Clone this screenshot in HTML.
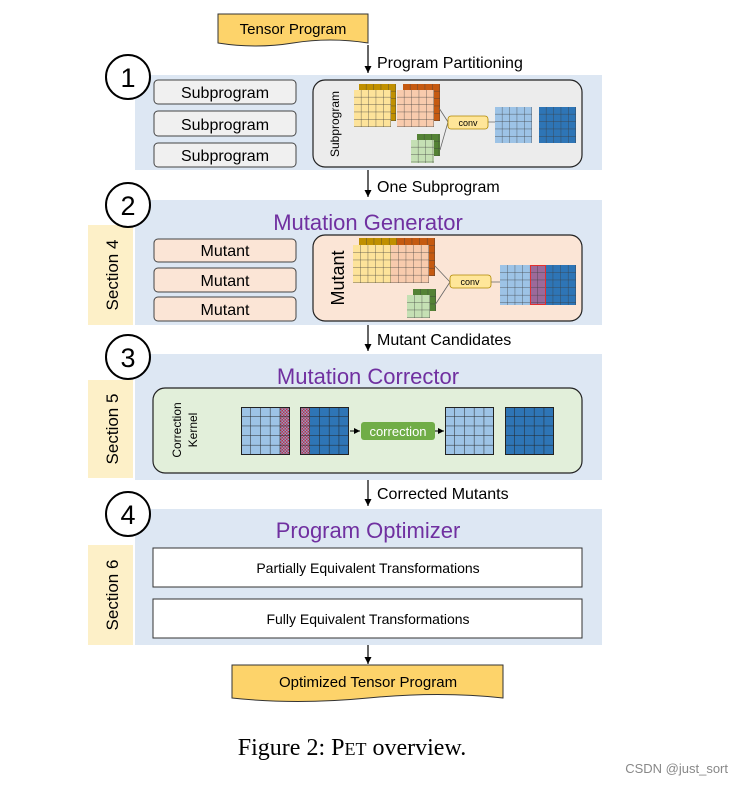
<!DOCTYPE html>
<html><head><meta charset="utf-8"><style>
body{margin:0;background:#fff;}
svg{display:block;font-family:"Liberation Sans",sans-serif;}
</style></head><body>
<svg width="743" height="785" viewBox="0 0 743 785" xmlns="http://www.w3.org/2000/svg">
<defs>
<pattern id="g7" width="7.4" height="7.4" patternUnits="userSpaceOnUse"><path d="M7.4 0V7.4H0" fill="none" stroke="#3a3a3a" stroke-width="0.7"/></pattern>
<pattern id="g8" width="7.6" height="7.6" patternUnits="userSpaceOnUse"><path d="M7.6 0V7.6H0" fill="none" stroke="#3a3a3a" stroke-width="0.7"/></pattern>
<pattern id="g10" width="9.8" height="9.6" patternUnits="userSpaceOnUse"><path d="M9.8 0V9.6H0" fill="none" stroke="#222" stroke-width="1"/></pattern>
<pattern id="hatch" width="3" height="3" patternUnits="userSpaceOnUse"><rect width="3" height="3" fill="#c0304a"/><rect width="1.5" height="1.5" fill="#8aa0c8"/><rect x="1.5" y="1.5" width="1.5" height="1.5" fill="#8aa0c8"/></pattern>
<marker id="ar" markerWidth="8" markerHeight="8" refX="6" refY="3" orient="auto"><path d="M0,0L6,3L0,6z" fill="#000"/></marker>
</defs>

<path d="M218,14H368V43Q330,37 293,43T218,43Z" fill="#fdd36a" stroke="#333" stroke-width="1"/>
<text x="293" y="34" font-size="15" text-anchor="middle">Tensor Program</text>
<line x1="368" y1="45" x2="368" y2="73" stroke="#000" stroke-width="1.2" marker-end="url(#ar)"/>
<text x="377" y="68" font-size="16">Program Partitioning</text>

<rect x="135" y="75" width="467" height="95" fill="#dde7f3"/>
<circle cx="128" cy="77" r="22" fill="#fff" stroke="#000" stroke-width="2"/>
<text x="128" y="87" font-size="27" text-anchor="middle">1</text>
<g font-size="16" text-anchor="middle">
<rect x="154" y="80" width="142" height="24" rx="4" fill="#f0f0f0" stroke="#444"/><text x="225" y="98">Subprogram</text>
<rect x="154" y="111" width="142" height="25" rx="4" fill="#f0f0f0" stroke="#444"/><text x="225" y="130">Subprogram</text>
<rect x="154" y="143" width="142" height="24" rx="4" fill="#f0f0f0" stroke="#444"/><text x="225" y="161">Subprogram</text>
</g>
<rect x="313" y="80" width="269" height="87" rx="12" fill="#ececec" stroke="#222" stroke-width="1.2"/>
<text transform="translate(339,124) rotate(-90)" font-size="12" text-anchor="middle">Subprogram</text>
<svg x="359" y="84" width="37" height="37"><rect width="37" height="37" fill="#c09000"/><rect width="37" height="37" fill="url(#g7)"/></svg>
<svg x="354" y="90" width="37" height="37"><rect width="37" height="37" fill="#fde39a"/><rect width="37" height="37" fill="url(#g7)"/></svg>
<svg x="403" y="84" width="37" height="37"><rect width="37" height="37" fill="#c55a11"/><rect width="37" height="37" fill="url(#g7)"/></svg>
<svg x="397" y="90" width="37" height="37"><rect width="37" height="37" fill="#f8cbad"/><rect width="37" height="37" fill="url(#g7)"/></svg>
<svg x="417" y="134" width="23" height="22"><rect width="23" height="22" fill="#548235"/><rect width="23" height="22" fill="url(#g7)"/></svg>
<svg x="411" y="140" width="23" height="23"><rect width="23" height="23" fill="#c5e0b4"/><rect width="23" height="23" fill="url(#g7)"/></svg>
<path d="M439,108L448,122L440,150M488,122H495" fill="none" stroke="#666" stroke-width="0.8"/>
<rect x="448" y="116" width="40" height="13" rx="3" fill="#ffe699" stroke="#b08800" stroke-width="0.8"/>
<text x="468" y="126" font-size="9" text-anchor="middle">conv</text>
<svg x="495" y="107" width="37" height="36"><rect width="37" height="36" fill="#9dc3e6"/><rect width="37" height="36" fill="url(#g7)"/></svg>
<svg x="539" y="107" width="37" height="36"><rect width="37" height="36" fill="#2e75b6"/><rect width="37" height="36" fill="url(#g7)"/></svg>

<line x1="368" y1="170" x2="368" y2="197" stroke="#000" stroke-width="1.2" marker-end="url(#ar)"/>
<text x="377" y="192" font-size="16">One Subprogram</text>

<rect x="135" y="200" width="467" height="125" fill="#dde7f3"/>
<rect x="88" y="225" width="45" height="100" fill="#fdf0c8"/>
<text transform="translate(118,275) rotate(-90)" font-size="17" text-anchor="middle">Section 4</text>
<circle cx="128" cy="205" r="22" fill="#fff" stroke="#000" stroke-width="2"/>
<text x="128" y="215" font-size="27" text-anchor="middle">2</text>
<text x="368" y="230" font-size="22" fill="#7030a0" text-anchor="middle">Mutation Generator</text>
<g font-size="16" text-anchor="middle">
<rect x="154" y="239" width="142" height="23" rx="4" fill="#fbe5d6" stroke="#444"/><text x="225" y="256">Mutant</text>
<rect x="154" y="268" width="142" height="24" rx="4" fill="#fbe5d6" stroke="#444"/><text x="225" y="286">Mutant</text>
<rect x="154" y="297" width="142" height="24" rx="4" fill="#fbe5d6" stroke="#444"/><text x="225" y="315">Mutant</text>
</g>
<rect x="313" y="235" width="269" height="86" rx="12" fill="#fbe5d6" stroke="#222" stroke-width="1.2"/>
<text transform="translate(344,278) rotate(-90)" font-size="18" text-anchor="middle">Mutant</text>
<svg x="359" y="238" width="38" height="38"><rect width="38" height="38" fill="#c09000"/><rect width="38" height="38" fill="url(#g8)"/></svg>
<svg x="397" y="238" width="38" height="38"><rect width="38" height="38" fill="#c55a11"/><rect width="38" height="38" fill="url(#g8)"/></svg>
<svg x="353" y="245" width="38" height="38"><rect width="38" height="38" fill="#fde39a"/><rect width="38" height="38" fill="url(#g8)"/></svg>
<svg x="391" y="245" width="38" height="38"><rect width="38" height="38" fill="#f8cbad"/><rect width="38" height="38" fill="url(#g8)"/></svg>
<svg x="413" y="289" width="23" height="22"><rect width="23" height="22" fill="#548235"/><rect width="23" height="22" fill="url(#g8)"/></svg>
<svg x="407" y="295" width="23" height="23"><rect width="23" height="23" fill="#c5e0b4"/><rect width="23" height="23" fill="url(#g8)"/></svg>
<path d="M434,265L450,282L435,305M491,282H500" fill="none" stroke="#666" stroke-width="0.8"/>
<rect x="450" y="275" width="41" height="13" rx="3" fill="#ffe699" stroke="#b08800" stroke-width="0.8"/>
<text x="470" y="285" font-size="9" text-anchor="middle">conv</text>
<svg x="500" y="265" width="76" height="40"><rect width="46" height="40" fill="#9dc3e6"/><rect x="30" width="46" height="40" fill="#2e75b6"/><rect x="30" width="16" height="40" fill="#9b6a9a"/><rect width="76" height="40" fill="url(#g8)"/><rect x="30.5" y="0.5" width="15" height="39" fill="none" stroke="#e03030" stroke-width="1"/></svg>

<line x1="368" y1="325" x2="368" y2="351" stroke="#000" stroke-width="1.2" marker-end="url(#ar)"/>
<text x="377" y="345" font-size="16">Mutant Candidates</text>

<rect x="135" y="354" width="467" height="126" fill="#dde7f3"/>
<rect x="88" y="380" width="45" height="98" fill="#fdf0c8"/>
<text transform="translate(118,429) rotate(-90)" font-size="17" text-anchor="middle">Section 5</text>
<circle cx="128" cy="357" r="22" fill="#fff" stroke="#000" stroke-width="2"/>
<text x="128" y="367" font-size="27" text-anchor="middle">3</text>
<text x="368" y="384" font-size="22" fill="#7030a0" text-anchor="middle">Mutation Corrector</text>
<rect x="153" y="388" width="429" height="85" rx="12" fill="#e2efda" stroke="#222" stroke-width="1.2"/>
<text transform="translate(181,430) rotate(-90)" font-size="12" text-anchor="middle">Correction</text>
<text transform="translate(197,430) rotate(-90)" font-size="12" text-anchor="middle">Kernel</text>
<svg x="241" y="407" width="49" height="48"><rect width="49" height="48" fill="#9dc3e6"/><rect x="39" width="10" height="48" fill="url(#hatch)"/><rect width="49" height="48" fill="url(#g10)"/><rect x="0.5" y="0.5" width="48" height="47" fill="none" stroke="#222"/></svg>
<svg x="300" y="407" width="49" height="48"><rect width="49" height="48" fill="#2e75b6"/><rect width="10" height="48" fill="url(#hatch)"/><rect width="49" height="48" fill="url(#g10)"/><rect x="0.5" y="0.5" width="48" height="47" fill="none" stroke="#222"/></svg>
<line x1="350" y1="431" x2="360" y2="431" stroke="#000" marker-end="url(#ar)"/>
<rect x="361" y="422" width="74" height="18" rx="3" fill="#70ad47"/>
<text x="398" y="436" font-size="13" fill="#fff" text-anchor="middle">correction</text>
<line x1="435" y1="431" x2="444" y2="431" stroke="#000" marker-end="url(#ar)"/>
<svg x="445" y="407" width="49" height="48"><rect width="49" height="48" fill="#9dc3e6"/><rect width="49" height="48" fill="url(#g10)"/><rect x="0.5" y="0.5" width="48" height="47" fill="none" stroke="#222"/></svg>
<svg x="505" y="407" width="49" height="48"><rect width="49" height="48" fill="#2e75b6"/><rect width="49" height="48" fill="url(#g10)"/><rect x="0.5" y="0.5" width="48" height="47" fill="none" stroke="#222"/></svg>

<line x1="368" y1="480" x2="368" y2="506" stroke="#000" stroke-width="1.2" marker-end="url(#ar)"/>
<text x="377" y="499" font-size="16">Corrected Mutants</text>

<rect x="135" y="509" width="467" height="136" fill="#dde7f3"/>
<rect x="88" y="545" width="45" height="100" fill="#fdf0c8"/>
<text transform="translate(118,595) rotate(-90)" font-size="17" text-anchor="middle">Section 6</text>
<circle cx="128" cy="514" r="22" fill="#fff" stroke="#000" stroke-width="2"/>
<text x="128" y="524" font-size="27" text-anchor="middle">4</text>
<text x="368" y="538" font-size="22" fill="#7030a0" text-anchor="middle">Program Optimizer</text>
<rect x="153" y="548" width="429" height="39" fill="#fff" stroke="#333"/>
<text x="368" y="573" font-size="14" text-anchor="middle">Partially Equivalent Transformations</text>
<rect x="153" y="599" width="429" height="39" fill="#fff" stroke="#333"/>
<text x="368" y="624" font-size="14" text-anchor="middle">Fully Equivalent Transformations</text>

<line x1="368" y1="645" x2="368" y2="664" stroke="#000" stroke-width="1.2" marker-end="url(#ar)"/>
<path d="M232,665H503V698Q440,691 368,698T232,698Z" fill="#fdd36a" stroke="#333"/>
<text x="368" y="687" font-size="15" text-anchor="middle">Optimized Tensor Program</text>

<text x="352" y="755" font-size="24" font-family="Liberation Serif,serif" text-anchor="middle">Figure 2: P<tspan font-size="18">ET</tspan> overview.</text>
<text x="728" y="773" font-size="13" fill="#888" text-anchor="end">CSDN @just_sort</text>
</svg>
</body></html>
